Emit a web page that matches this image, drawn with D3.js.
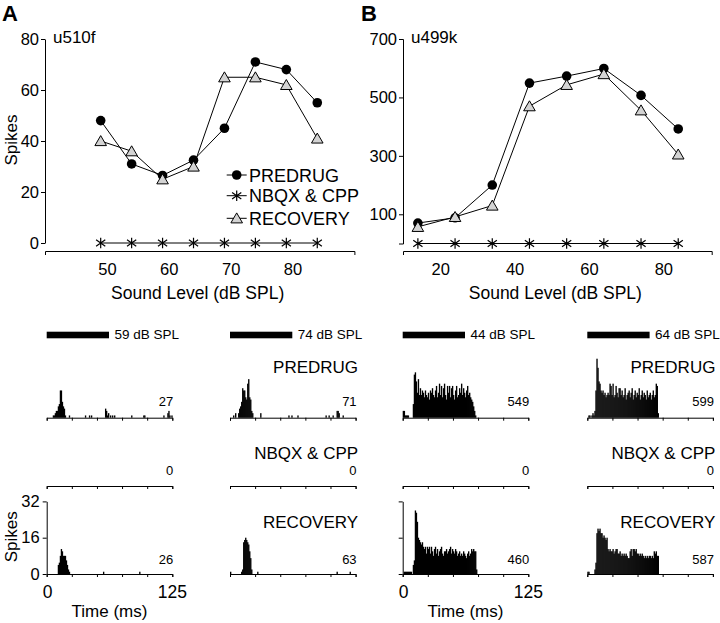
<!DOCTYPE html>
<html><head><meta charset="utf-8">
<script src="https://cdn.jsdelivr.net/npm/d3@7"></script>
<style>
html,body{margin:0;padding:0;background:#fff;}
svg{display:block;font-family:"Liberation Sans",Arial,Helvetica,sans-serif;}
</style></head><body>
<svg id="c" width="720" height="623"></svg>
<script>
// ---------------- data ----------------
const levelsA = [49,54,59,64,69,74,79,84];
const predrugA = [48,31,26.5,32.5,45,71,68,55];
const nbqxA = [0,0,0,0,0,0,0,0];
const recoveryA = [40,36,25,30,65,65,62,41];
const levelsB = [14,24,34,44,54,64,74,84];
const predrugB = [70,88,200,549,573,599,507,392];
const nbqxB = [0,0,0,0,0,0,0,0];
const recoveryB = [57,91,130,470,543,580,456,305];
const yTicksA = [0,20,40,60,80];
const xTicksA = [50,60,70,80];
const yTicksB = [100,300,500,700];
const xTicksB = [20,40,60,80];
const seriesNames = ["PREDRUG","NBQX & CPP","RECOVERY"];
const unitNames = ["u510f","u499k"];
const panelLetters = ["A","B"];

const psthLevels = [59,74,44,64];
const psthTotalsPre = [27,71,549,599];
const psthTotalsDrug = [0,0,0,0];
const psthTotalsRec = [26,63,460,587];
const psthTimeTicks = [0,25,50,75,100,125];
const psthYTicks = [0,16,32];
const stimDur = 62;

// sparse histograms: [ms bin, spikes]
const histA59Pre = [[6,1],[7,1],[8,2],[9,3],[10,3],[11,5],[12,6],[13,12],[14,12],[15,7],[16,5],[17,4],[18,1],[22,1],[38,1],[42,1],[44,1],[58,4],[59,3],[60,1],[61,2],[63,1],[65,1],[67,1],[84,1],[96,1],[97,1],[116,1],[120,2],[121,3],[122,1],[124,1]];
const histA74Pre = [[3,1],[5,2],[8,2],[9,4],[10,5],[11,7],[12,13],[13,12],[14,12],[15,9],[16,8],[17,15],[18,17],[19,9],[20,8],[21,3],[22,2],[30,2],[58,1],[61,1],[67,1],[95,1],[98,1],[102,1],[106,3],[107,3],[108,2],[112,1]];
const histA59Rec = [[11,4],[12,5],[13,8],[14,11],[15,10],[16,8],[17,8],[18,8],[19,6],[20,4],[21,2],[22,1],[56,1],[92,1]];
const histA74Rec = [[0,1],[11,1],[12,2],[13,14],[14,15],[15,16],[16,15],[17,14],[18,13],[19,10],[20,7],[21,2],[27,1],[106,1],[119,1]];
// dense histograms: spikes per 1-ms bin from 0 ms
const histB44Pre = [3,3,1,1,1,1,0,0,0,0,6,19,20,16,11,17,10,13,10,12,11,9,12,10,9,11,8,12,11,13,10,9,12,14,9,11,15,10,14,9,13,15,10,8,14,11,14,9,13,14,10,8,12,14,9,10,13,11,15,10,13,11,9,12,14,10,11,9,8,7,5,3,1];
const histB64Pre = [0,1,1,0,1,2,1,3,12,26,22,16,15,12,11,12,10,11,9,10,11,10,15,14,10,15,9,10,14,11,9,13,13,10,12,9,10,13,8,10,11,12,9,11,13,8,10,12,9,11,10,13,8,10,12,9,11,10,8,12,9,10,11,8,10,12,9,10,15,14,2];
const histB44Rec = [0,1,1,1,1,1,1,1,1,0,4,6,28,27,23,16,15,14,13,14,12,11,12,9,12,11,12,9,12,10,8,11,12,9,11,8,10,11,12,9,8,10,10,11,9,10,11,12,9,11,10,9,11,10,8,9,10,8,9,8,10,9,8,7,9,10,8,9,11,10,11,10,10,2];
const histB64Rec = [1,1,0,0,0,0,0,2,5,18,20,19,20,18,18,16,17,16,15,16,11,10,11,10,10,11,9,10,11,11,9,9,10,8,9,8,9,8,9,8,7,7,10,11,8,11,11,10,11,9,9,8,9,8,9,8,7,8,7,8,7,8,8,7,8,7,10,9,10,8,8];

// ---------------- drawing ----------------
const svg = d3.select("#c");
const FONT = '"Liberation Sans", Arial, Helvetica, sans-serif';

function styleAxis(g, size) {
  g.selectAll("path,line").attr("stroke", "#000").attr("stroke-width", 1);
  g.selectAll("text").attr("font-size", size).attr("font-family", FONT).attr("fill", "#000");
}

function marker(g, kind, cx, cy) {
  if (kind === 0) {
    g.append("circle").attr("cx", cx).attr("cy", cy).attr("r", 4.8).attr("fill", "#000");
  } else if (kind === 1) {
    g.append("path")
      .attr("d", `M${cx},${cy-5.2}V${cy+5.2}M${cx-4.6},${cy-3.3}L${cx+4.6},${cy+3.3}M${cx-4.6},${cy+3.3}L${cx+4.6},${cy-3.3}`)
      .attr("stroke", "#000").attr("stroke-width", 1.2).attr("fill", "none");
  } else {
    g.append("path")
      .attr("d", `M${cx},${cy-5.4}L${cx+5.8},${cy+4.6}L${cx-5.8},${cy+4.6}Z`)
      .attr("fill", "#d3d3d3").attr("stroke", "#000").attr("stroke-width", 1);
  }
}

function tuning(p) {
  const g = svg.append("g");
  const x = d3.scaleLinear().domain(p.xDomain).range(p.xRange);
  const y = d3.scaleLinear().domain(p.yDomain).range([p.yBottom, 39]);
  const ya = g.append("g").attr("transform", `translate(${p.xRange[0]},0)`)
    .call(d3.axisLeft(y).tickValues(p.yTicks).tickSizeInner(4).tickSizeOuter(p.yOuter).tickPadding(2));
  styleAxis(ya, 16.5);
  const xa = g.append("g").attr("transform", `translate(0,251)`)
    .call(d3.axisBottom(x).tickValues(p.xTicks).tickSizeInner(0).tickSizeOuter(4).tickPadding(12));
  styleAxis(xa, 16.5);
  g.append("text").attr("x", (p.xRange[0] + p.xRange[1]) / 2 - 2).attr("y", 299)
    .attr("text-anchor", "middle").attr("font-size", 17.5).text("Sound Level (dB SPL)");
  g.append("text").attr("x", p.xRange[0] + 8).attr("y", 43.3).attr("font-size", 17).text(p.unit);
  g.append("text").attr("x", p.letterX).attr("y", 20.5).attr("font-size", 22).attr("font-weight", "bold").text(p.letter);
  const line = d3.line().x((d, i) => x(p.levels[i])).y(d => y(d));
  p.series.forEach((s, k) => {
    g.append("path").attr("d", line(s)).attr("fill", "none").attr("stroke", "#000").attr("stroke-width", 1);
  });
  p.series.forEach((s, k) => {
    s.forEach((v, i) => marker(g, k, x(p.levels[i]), y(v)));
  });
  return g;
}

tuning({xDomain: [40, 90], xRange: [45, 354.4], yDomain: [0, 80], yBottom: 243,
  xTicks: xTicksA, yTicks: yTicksA, yOuter: 0, levels: levelsA,
  series: [predrugA, nbqxA, recoveryA], unit: unitNames[0], letter: panelLetters[0], letterX: 2});
tuning({xDomain: [10, 93], xRange: [403, 711.7], yDomain: [0, 700], yBottom: 243.5,
  xTicks: xTicksB, yTicks: yTicksB, yOuter: 4, levels: levelsB,
  series: [predrugB, nbqxB, recoveryB], unit: unitNames[1], letter: panelLetters[1], letterX: 361});

// y label top-left
svg.append("text").attr("transform", "translate(16.5,140) rotate(-90)")
  .attr("text-anchor", "middle").attr("font-size", 17).text("Spikes");

// legend (panel A)
const lg = svg.append("g");
[175, 195.7, 218.3].forEach((ly, k) => {
  lg.append("line").attr("x1", 226.7).attr("x2", 246.7).attr("y1", ly).attr("y2", ly).attr("stroke", "#000");
  marker(lg, k, 236.7, ly);
  lg.append("text").attr("x", 249).attr("y", ly + 6.5).attr("font-size", 18).text(seriesNames[k]);
});

// ---------------- PSTHs ----------------
const colX0 = [46.7, 230, 402.7, 587.3];
const rowBase = [417.7, 486, 574];
const sparseToBins = a => a.map(d => ({t: d[0], n: d[1]}));
const denseToBins = a => a.map((n, t) => ({t, n})).filter(d => d.n > 0);
const hists = [
  [sparseToBins(histA59Pre), [], sparseToBins(histA59Rec)],
  [sparseToBins(histA74Pre), [], sparseToBins(histA74Rec)],
  [denseToBins(histB44Pre), [], denseToBins(histB44Rec)],
  [denseToBins(histB64Pre), [], denseToBins(histB64Rec)]
];
const totals = [psthTotalsPre, psthTotalsDrug, psthTotalsRec];
const titleBase = [373.3, 458.5, 528.3];
const countBase = [406, 475, 564];

colX0.forEach((x0, c) => {
  const xs = d3.scaleLinear().domain([0, 125]).range([x0, x0 + 125.6]);
  const g = svg.append("g");
  // stimulus bar
  g.append("rect").attr("x", xs(0)).attr("y", 331.7).attr("width", xs(stimDur) - xs(0)).attr("height", 6.6).attr("fill", "#000");
  g.append("text").attr("x", xs(stimDur) + 5.5).attr("y", 339.3).attr("font-size", 13.5).text(psthLevels[c] + " dB SPL");
  rowBase.forEach((base, r) => {
    const ys = d3.scaleLinear().domain([0, 32]).range([base, base - 72.6]);
    g.selectAll(null).data(hists[c][r]).enter().append("rect")
      .attr("x", d => xs(d.t)).attr("width", d => xs(d.t + 1) - xs(d.t) + 0.35)
      .attr("y", d => ys(d.n)).attr("height", d => base - ys(d.n)).attr("fill", "#000");
    const ax = g.append("g").attr("transform", `translate(0,${base})`)
      .call(d3.axisBottom(xs).tickValues(psthTimeTicks).tickSize(3).tickSizeOuter(3).tickFormat(""));
    styleAxis(ax, 12);
    g.append("text").attr("x", xs(125) + 1).attr("y", countBase[r]).attr("text-anchor", "end")
      .attr("font-size", 13).text(totals[r][c]);
    if (c === 1 || c === 3) {
      g.append("text").attr("x", xs(125) + 2.5).attr("y", titleBase[r]).attr("text-anchor", "end")
        .attr("font-size", 17).text(seriesNames[r]);
    }
    if (r === 2 && (c === 0 || c === 2)) {
      const yax = g.append("g").attr("transform", `translate(${xs(0)},0)`)
        .call(d3.axisLeft(ys).tickValues(psthYTicks).tickSize(4).tickSizeOuter(0).tickPadding(3)
          .tickFormat(c === 0 ? d3.format("d") : ""));
      styleAxis(yax, 16.5);
      g.append("text").attr("x", xs(0) + 1).attr("y", 598.3).attr("text-anchor", "middle").attr("font-size", 17.5).text(psthTimeTicks[0]);
      g.append("text").attr("x", xs(125)).attr("y", 598.3).attr("text-anchor", "middle").attr("font-size", 17.5).text(psthTimeTicks[5]);
      g.append("text").attr("x", (xs(0) + xs(125)) / 2).attr("y", 617).attr("text-anchor", "middle").attr("font-size", 17).text("Time (ms)");
    }
  });
});

svg.append("text").attr("transform", "translate(16.5,536.7) rotate(-90)")
  .attr("text-anchor", "middle").attr("font-size", 17).text("Spikes");
</script>
</body></html>
